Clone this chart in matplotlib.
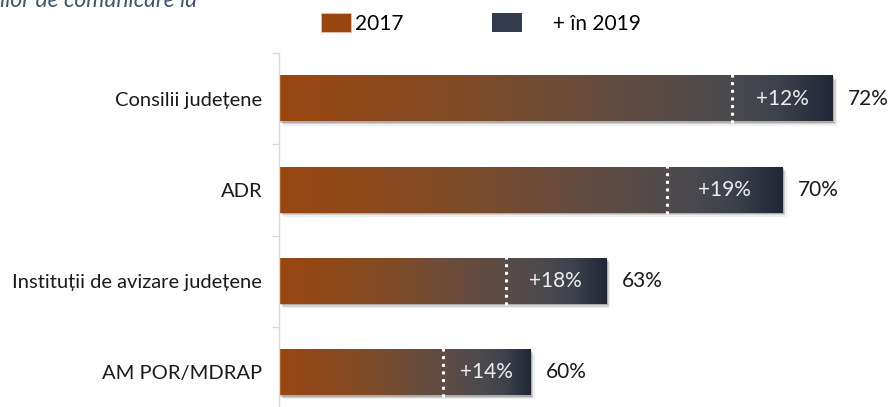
import matplotlib
matplotlib.use("Agg")
import matplotlib.pyplot as plt
import numpy as np
from matplotlib.colors import LinearSegmentedColormap
from matplotlib.patches import Rectangle, Patch
import matplotlib.patheffects as pe

plt.rcParams['font.family'] = ['Lato', 'DejaVu Sans']

# ---- data ----
categories = ["Consilii județene", "ADR", "Instituții de avizare județene", "AM POR/MDRAP"]
totals_2019 = [72, 70, 63, 60]
increase_labels = ["+12%", "+19%", "+18%", "+14%"]
divider_values = [68, 65.4, 59, 56.5]
legend_labels = ["2017", "     + în 2019"]
title_fragment = "ilor de comunicare la"

AXIS_MIN = 50

fig = plt.figure(figsize=(8.94, 4.07), dpi=100)
W, H = 894, 407
left_px, top_px, bottom_px = 279, 53, 418
ax = fig.add_axes([left_px / W, (H - bottom_px) / H, (W - left_px) / W, (bottom_px - top_px) / H])
px_per_unit = 25.17
ax.set_xlim(AXIS_MIN, AXIS_MIN + (W - left_px) / px_per_unit)
ax.set_ylim(len(categories) - 0.5, -0.5)

cmap = LinearSegmentedColormap.from_list(
    "grad",
    [(0.0, "#9A4710"), (0.35, "#7F4B28"), (0.65, "#5E4C44"), (0.82, "#4A4A4F"),
     (0.9, "#3E424C"), (1.0, "#212736")])
grad = np.linspace(0, 1, 512).reshape(1, -1)

h = 0.5
for i, (tot, inc, div) in enumerate(zip(totals_2019, increase_labels, divider_values)):
    for off, a in [((1.0, -1.0), 0.18), ((2.0, -2.0), 0.12), ((3.0, -3.0), 0.06)]:
        r = Rectangle((AXIS_MIN, i - h / 2), tot - AXIS_MIN, h, facecolor="none", edgecolor="none",
                      path_effects=[pe.SimplePatchShadow(offset=off, shadow_rgbFace="#000000", alpha=a)],
                      zorder=1)
        ax.add_patch(r)
    ax.imshow(grad, cmap=cmap, extent=[AXIS_MIN, tot, i + h / 2, i - h / 2], aspect="auto",
              interpolation="bilinear", zorder=2)
    ax.plot([div, div], [i - h / 2 - 0.02, i + h / 2 + 0.05], color="white", lw=2.2,
            linestyle=(0, (1, 1.5)), zorder=3, solid_capstyle="butt")
    ax.text((div + tot) / 2, i, inc, color="#EDEDED", ha="center", va="center", fontsize=15, zorder=4)
    ax.annotate(f"{tot}%", xy=(tot, i), xytext=(11, 0), textcoords="offset points",
                ha="left", va="center", fontsize=15, color="#1a1a1a")

ax.set_aspect("auto")
ax.set_xlim(AXIS_MIN, AXIS_MIN + (W - left_px) / px_per_unit)
ax.set_ylim(len(categories) - 0.5, -0.5)

for s in ["top", "right", "bottom"]:
    ax.spines[s].set_visible(False)
ax.spines["left"].set_color("#D9D9D9")
ax.spines["left"].set_linewidth(1.0)
ax.set_xticks([])
ax.set_yticks(range(len(categories)))
ax.set_yticklabels(categories, fontsize=14.5, color="#1a1a1a")
ax.tick_params(axis="y", which="major", length=0, pad=12)
ax.set_yticks(np.arange(-0.5, len(categories), 1.0), minor=True)
ax.tick_params(axis="y", which="minor", length=5, color="#D9D9D9", width=1)

handles = [Patch(facecolor="#994510", edgecolor="#F0C8A8", linewidth=0.5),
           Patch(facecolor="#323C4E", edgecolor="none")]
fig.legend(handles, legend_labels, loc="upper left", bbox_to_anchor=(321 / W, 1 - 13 / H),
           ncol=2, frameon=False, fontsize=15, handlelength=1.44, handleheight=1.06,
           handletextpad=0.2, columnspacing=4.25, borderpad=0, borderaxespad=0)

fig.text(0.0, 1 - 7 / H, title_fragment, style="italic", color="#44546A", fontsize=16.5,
         ha="left", va="baseline")

fig.savefig("out.png", dpi=100)
